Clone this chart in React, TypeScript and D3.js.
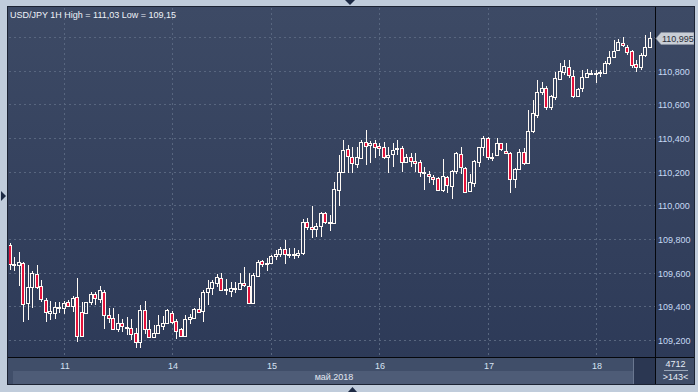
import * as d3 from "d3";

// USD/JPY 1H candles (oldest first)
const opens = [
  109.764, 109.645, 109.645, 109.657, 109.419, 109.514, 109.592, 109.520, 109.437, 109.360,
  109.360, 109.390, 109.390, 109.425, 109.402, 109.455, 109.366, 109.360, 109.425, 109.473,
  109.443, 109.485, 109.348, 109.330, 109.265, 109.301, 109.271, 109.271, 109.241, 109.188,
  109.378, 109.265, 109.218, 109.241, 109.283, 109.301, 109.360, 109.313, 109.265, 109.223,
  109.324, 109.330, 109.384, 109.372, 109.485, 109.508, 109.538, 109.568, 109.497, 109.491,
  109.502, 109.502, 109.538, 109.520, 109.419, 109.580, 109.669, 109.651, 109.657, 109.699,
  109.710, 109.740, 109.704, 109.704, 109.704, 109.716, 109.900, 109.871, 109.859, 109.877,
  109.954, 109.894, 109.894, 110.090, 110.197, 110.334, 110.286, 110.245, 110.280, 110.375,
  110.358, 110.370, 110.352, 110.346, 110.286, 110.304, 110.334, 110.340, 110.257, 110.286,
  110.263, 110.257, 110.191, 110.185, 110.168, 110.162, 110.090, 110.168, 110.114, 110.203,
  110.304, 110.221, 110.084, 110.132, 110.257, 110.346, 110.399, 110.280, 110.298, 110.370,
  110.322, 110.310, 110.156, 110.215, 110.316, 110.251, 110.441, 110.536, 110.672, 110.696,
  110.583, 110.643, 110.750, 110.791, 110.821, 110.767, 110.649, 110.696, 110.761, 110.779,
  110.779, 110.785, 110.785, 110.844, 110.880, 110.922, 110.963, 110.940, 110.916, 110.839,
  110.821, 110.892, 110.940,
];
const highs = [
  109.776, 109.693, 109.722, 109.663, 109.645, 109.609, 109.645, 109.556, 109.449, 109.431,
  109.425, 109.425, 109.431, 109.437, 109.461, 109.568, 109.425, 109.425, 109.485, 109.485,
  109.520, 109.497, 109.390, 109.390, 109.354, 109.324, 109.336, 109.324, 109.271, 109.407,
  109.431, 109.318, 109.289, 109.348, 109.342, 109.384, 109.372, 109.324, 109.271, 109.348,
  109.354, 109.390, 109.449, 109.497, 109.556, 109.556, 109.592, 109.598, 109.562, 109.544,
  109.544, 109.598, 109.633, 109.598, 109.598, 109.675, 109.675, 109.687, 109.704, 109.734,
  109.752, 109.793, 109.746, 109.746, 109.734, 109.918, 109.924, 109.995, 109.894, 109.960,
  109.960, 109.942, 110.138, 110.298, 110.387, 110.358, 110.346, 110.346, 110.387, 110.447,
  110.381, 110.387, 110.370, 110.375, 110.346, 110.370, 110.387, 110.352, 110.304, 110.310,
  110.310, 110.269, 110.227, 110.203, 110.179, 110.168, 110.274, 110.174, 110.209, 110.316,
  110.346, 110.227, 110.185, 110.269, 110.346, 110.411, 110.405, 110.310, 110.399, 110.370,
  110.370, 110.316, 110.221, 110.334, 110.340, 110.565, 110.625, 110.744, 110.732, 110.708,
  110.655, 110.791, 110.844, 110.862, 110.862, 110.803, 110.696, 110.803, 110.809, 110.803,
  110.803, 110.803, 110.856, 110.916, 110.981, 110.987, 110.999, 110.951, 110.922, 110.862,
  110.904, 111.011, 111.030,
];
const lows = [
  109.615, 109.609, 109.520, 109.307, 109.318, 109.390, 109.502, 109.425, 109.307, 109.318,
  109.324, 109.360, 109.354, 109.396, 109.366, 109.188, 109.218, 109.354, 109.407, 109.407,
  109.419, 109.265, 109.301, 109.259, 109.247, 109.247, 109.229, 109.200, 109.152, 109.152,
  109.235, 109.212, 109.212, 109.235, 109.259, 109.295, 109.295, 109.206, 109.218, 109.218,
  109.295, 109.324, 109.360, 109.307, 109.407, 109.467, 109.514, 109.491, 109.467, 109.455,
  109.479, 109.497, 109.514, 109.413, 109.413, 109.574, 109.633, 109.609, 109.651, 109.675,
  109.693, 109.651, 109.687, 109.681, 109.687, 109.704, 109.853, 109.805, 109.811, 109.811,
  109.889, 109.847, 109.889, 109.995, 110.191, 110.191, 110.191, 110.221, 110.274, 110.239,
  110.251, 110.280, 110.292, 110.274, 110.191, 110.227, 110.298, 110.197, 110.251, 110.227,
  110.197, 110.168, 110.090, 110.132, 110.120, 110.084, 110.078, 110.073, 110.037, 110.185,
  110.185, 110.073, 110.078, 110.108, 110.227, 110.292, 110.269, 110.263, 110.292, 110.322,
  110.304, 110.073, 110.102, 110.209, 110.239, 110.251, 110.429, 110.518, 110.655, 110.565,
  110.565, 110.625, 110.744, 110.773, 110.755, 110.637, 110.643, 110.672, 110.755, 110.773,
  110.726, 110.761, 110.779, 110.833, 110.874, 110.916, 110.940, 110.892, 110.815, 110.791,
  110.803, 110.880, 110.934,
];
const closes = [
  109.651, 109.651, 109.663, 109.413, 109.514, 109.598, 109.514, 109.443, 109.366, 109.372,
  109.396, 109.394, 109.419, 109.402, 109.449, 109.223, 109.223, 109.425, 109.473, 109.449,
  109.497, 109.348, 109.330, 109.265, 109.301, 109.283, 109.277, 109.235, 109.188, 109.378,
  109.265, 109.218, 109.241, 109.289, 109.301, 109.378, 109.307, 109.253, 109.223, 109.324,
  109.336, 109.384, 109.366, 109.485, 109.508, 109.544, 109.574, 109.497, 109.502, 109.508,
  109.508, 109.538, 109.526, 109.419, 109.586, 109.663, 109.651, 109.657, 109.699, 109.710,
  109.740, 109.710, 109.710, 109.710, 109.716, 109.900, 109.871, 109.859, 109.877, 109.954,
  109.900, 109.900, 110.096, 110.197, 110.328, 110.292, 110.251, 110.286, 110.375, 110.352,
  110.370, 110.346, 110.340, 110.286, 110.298, 110.328, 110.340, 110.257, 110.286, 110.263,
  110.251, 110.197, 110.197, 110.174, 110.156, 110.090, 110.174, 110.120, 110.203, 110.310,
  110.227, 110.078, 110.138, 110.263, 110.346, 110.399, 110.286, 110.286, 110.370, 110.334,
  110.310, 110.156, 110.215, 110.316, 110.251, 110.441, 110.548, 110.672, 110.696, 110.583,
  110.649, 110.755, 110.797, 110.827, 110.773, 110.649, 110.690, 110.761, 110.785, 110.785,
  110.785, 110.791, 110.844, 110.880, 110.916, 110.969, 110.951, 110.910, 110.833, 110.821,
  110.892, 110.940, 110.995,
];

const dayLabels = ["11", "14", "15", "16", "17", "18"];
const dayStarts = [12, 36, 58, 82, 106, 130]; // candle index where each day begins
const priceTicks = [109.2, 109.4, 109.6, 109.8, 110.0, 110.2, 110.4, 110.6, 110.8, 111.0];
const lastPrice = 110.995;
const titleText = "USD/JPY 1H High = 111,03 Low = 109,15";
const monthText = "май.2018";
const totalBars = "4712";
const shownBars = ">143<";

const W = 698;
const H = 392;
const panel = { left: 8, top: 7, right: 694, bottom: 384 };
const plot = { left: 8, top: 7, right: 655, bottom: 357 };

const FONT = "'Liberation Sans', Arial, sans-serif";
const RED = "#e3123b";
const WHITE = "#fffaf5";

const fmt = (v: number, digits: number) => v.toFixed(digits).replace(".", ",");

export default function App() {
  const n = closes.length;
  const x = d3.scaleLinear().domain([0, n - 1]).range([9.5, 650]);
  const y = d3.scaleLinear().domain([109.2, 110.8]).range([340, 70.5]);

  const candles = d3.range(n).map((i) => {
    const cx = Math.round(x(i));
    const o = opens[i];
    const c = closes[i];
    const top = Math.round(y(Math.max(o, c)));
    const bot = Math.round(y(Math.min(o, c)));
    const hi = Math.round(y(highs[i]));
    const lo = Math.round(y(lows[i]));
    const bear = c < o;
    const h = Math.max(bot - top, 1);
    return (
      <g key={i}>
        {hi < top && (
          <line x1={cx + 0.5} x2={cx + 0.5} y1={hi} y2={top} stroke={WHITE} strokeWidth={1} />
        )}
        {lo > top + h && (
          <line x1={cx + 0.5} x2={cx + 0.5} y1={top + h} y2={lo} stroke={WHITE} strokeWidth={1} />
        )}
        <rect
          x={cx - 1.5}
          y={top + 0.5}
          width={3}
          height={h}
          fill={bear ? RED : "none"}
          stroke={WHITE}
          strokeWidth={1}
        />
      </g>
    );
  });

  const tagY = Math.round(y(lastPrice)) + 0.5;
  // the last-price tag hides any axis label underneath it
  const axisLabels = priceTicks.filter((p) => Math.abs(y(p) - tagY) > 9);

  return (
    <div style={{ position: "fixed", left: 0, top: 0 }}>
      <svg width={W} height={H} style={{ display: "block" }}>
        <defs>
          <linearGradient id="bg" x1="0" y1="0" x2="0" y2="1">
            <stop offset="0%" stopColor="#3d4a65" />
            <stop offset="100%" stopColor="#2c3957" />
          </linearGradient>
          <clipPath id="plotClip">
            <rect x={plot.left + 1} y={plot.top + 1} width={plot.right - plot.left - 1} height={plot.bottom - plot.top - 1} />
          </clipPath>
        </defs>

        {/* outer frame */}
        <rect x={0} y={0} width={W} height={H} fill="#c0ccdb" />
        <polygon points="345,0 355,0 350,5" fill="#1d2a44" />
        <polygon points="348,392 357,392 352.5,387" fill="#1d2a44" />
        <polygon points="1,191 1,201 6,196" fill="#1d2a44" />

        {/* chart panel */}
        <rect x={panel.left} y={panel.top} width={panel.right - panel.left} height={panel.bottom - panel.top} fill="url(#bg)" />

        {/* bottom axis strip */}
        <rect x={panel.left} y={plot.bottom} width={panel.right - panel.left} height={panel.bottom - plot.bottom} fill="#404e69" />
        <rect x={13} y={371} width={620} height={panel.bottom - 371} fill="#4e5c77" />
        <rect x={633} y={plot.bottom + 1} width={plot.right - 633} height={panel.bottom - plot.bottom - 1} fill="#2b3752" />
        <line x1={633.5} x2={633.5} y1={plot.bottom + 1} y2={panel.bottom} stroke="#6a7790" />

        {/* grid */}
        <g stroke="#58667f" strokeWidth={1} strokeDasharray="2,3">
          {priceTicks.map((p) => (
            <line key={p} x1={plot.left + 1} x2={plot.right} y1={Math.round(y(p)) + 0.5} y2={Math.round(y(p)) + 0.5} />
          ))}
          {dayStarts.map((d) => (
            <line key={d} x1={Math.round(x(d)) + 0.5} x2={Math.round(x(d)) + 0.5} y1={plot.top + 1} y2={plot.bottom} />
          ))}
        </g>

        {/* candles */}
        <g clipPath="url(#plotClip)">{candles}</g>

        {/* title */}
        <text x={10} y={18} fill="#eef2f8" fontFamily={FONT} fontSize={9}>
          {titleText}
        </text>

        {/* separators */}
        <line x1={plot.right + 0.5} x2={plot.right + 0.5} y1={panel.top} y2={panel.bottom} stroke="#05070c" />
        <line x1={panel.left} x2={panel.right} y1={plot.bottom + 0.5} y2={plot.bottom + 0.5} stroke="#05070c" />

        {/* price axis */}
        <g fontFamily={FONT} fontSize={9} fill="#c6daf4">
          {axisLabels.map((p) => (
            <text key={p} x={658} y={Math.round(y(p)) + 3.5}>
              {fmt(p, 3)}
            </text>
          ))}
        </g>

        {/* last price tag */}
        <polygon
          points={`656,${tagY} 661,${tagY - 6} 694,${tagY - 6} 694,${tagY + 6} 661,${tagY + 6}`}
          fill="#c9ced6"
          stroke="#8e97a6"
          strokeWidth={0.6}
        />
        <text x={662} y={tagY + 3.5} fontFamily={FONT} fontSize={9} fill="#2a2f3a">
          {fmt(lastPrice, 3)}
        </text>

        {/* date axis */}
        <g fontFamily={FONT} fontSize={9} fill="#d6e2f3" textAnchor="middle">
          {dayStarts.map((d, i) => (
            <text key={d} x={Math.round(x(d)) + 1} y={369}>
              {dayLabels[i]}
            </text>
          ))}
        </g>
        <text x={334} y={380} fontFamily={FONT} fontSize={9} fill="#e2e8f1" textAnchor="middle">
          {monthText}
        </text>

        {/* bar counters */}
        <g fontFamily={FONT} fontSize={9} fill="#e6ecf5" textAnchor="middle">
          <text x={675.5} y={367}>{totalBars}</text>
          <text x={675.5} y={380}>{shownBars}</text>
        </g>
        <line x1={664} x2={688} y1={370.5} y2={370.5} stroke="#9aa6b8" />

        {/* panel border */}
        <rect
          x={panel.left - 0.5}
          y={panel.top - 0.5}
          width={panel.right - panel.left + 1}
          height={panel.bottom - panel.top + 1}
          fill="none"
          stroke="#1c2333"
        />
      </svg>
    </div>
  );
}
